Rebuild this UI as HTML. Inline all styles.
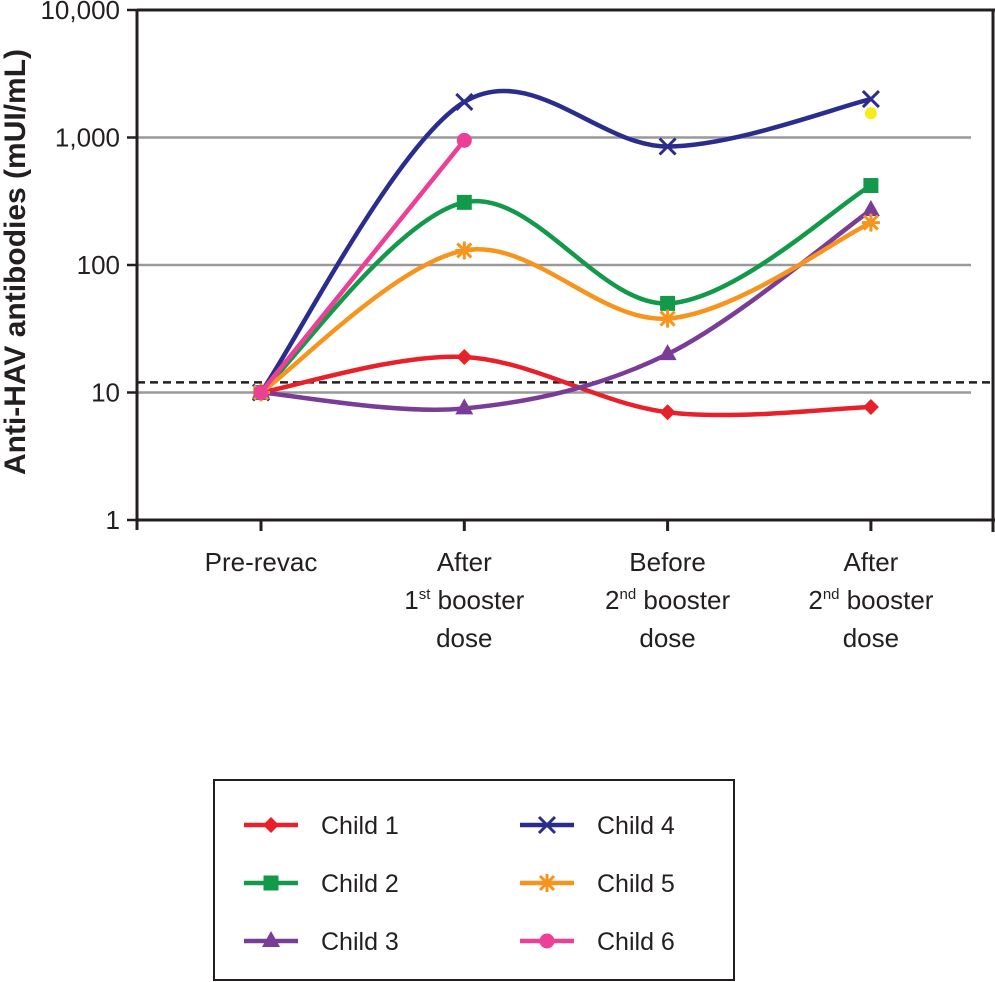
<!DOCTYPE html>
<html><head><meta charset="utf-8"><style>
body{margin:0;background:#fff}
svg{display:block;font-family:"Liberation Sans",Arial,sans-serif}
</style></head><body>
<svg id="chart" width="995" height="982" viewBox="0 0 995 982">
<g id="grid"></g>
<g id="axes"></g>
<g id="series"></g>
<g id="legend"></g>
</svg>
<script>
const categories = [["Pre-revac"],["After","1|st| booster","dose"],["Before","2|nd| booster","dose"],["After","2|nd| booster","dose"]];
const yTicks = [1,10,100,1000,10000];
const yTickLabels = ["1","10","100","1,000","10,000"];
const seriesNames = ["Child 1","Child 2","Child 3","Child 4","Child 5","Child 6"];
const child1 = [10,19,7,7.7];
const child2 = [10,310,50,420];
const child3 = [10,7.5,20,270];
const child4 = [10,1900,850,2000];
const child5 = [10,130,38,215];
const child6 = [10,950];
const extraPoint = [3,1550];
const thresholdValue = 12;

const NS="http://www.w3.org/2000/svg";
const colors=["#e8202a","#129a4a","#7a3d97","#2b2d8e","#f7941d","#ec3f95"];
const markers=["diamond","square","triangle","x","star","circle"];
const data=[child1,child2,child3,child4,child5,child6];
function xS(i){return 261+i*203.3;}
function yS(v){return 520-Math.log10(v)*127.5;}
function el(t,a,p){const e=document.createElementNS(NS,t);for(const k in a)e.setAttribute(k,a[k]);p.appendChild(e);return e;}
const grid=document.getElementById('grid'),axes=document.getElementById('axes'),ser=document.getElementById('series'),leg=document.getElementById('legend');
yTicks.forEach((v,i)=>{
  const y=yS(v);
  if(v>1&&v<10000){const g=el('line',{x1:137,x2:971,y1:y,y2:y,stroke:'#999','stroke-width':2.5},grid);
  
  }
  el('line',{x1:127,x2:137,y1:y,y2:y,stroke:'#231f20','stroke-width':2.5},axes);
  const t=el('text',{x:120,y:y+9,'text-anchor':'end','font-size':26,fill:'#231f20'},axes);
  t.textContent=yTickLabels[i];
  
  
});
el('line',{x1:137,x2:995,y1:yS(10000),y2:yS(10000),stroke:'#231f20','stroke-width':3},axes);
el('line',{x1:993,x2:993,y1:yS(10000),y2:532,stroke:'#231f20','stroke-width':3},axes);
el('line',{x1:137,x2:137,y1:yS(10000),y2:530,stroke:'#231f20','stroke-width':3},axes);
el('line',{x1:137,x2:995,y1:520,y2:520,stroke:'#231f20','stroke-width':3},axes);
categories.forEach((c,i)=>el('line',{x1:xS(i),x2:xS(i),y1:520,y2:531,stroke:'#231f20','stroke-width':3},axes));
const th=el('line',{x1:137,x2:995,y1:yS(thresholdValue),y2:yS(thresholdValue),stroke:'#231f20','stroke-width':2.5,'stroke-dasharray':'8,5'},axes);


const yt=el('text',{transform:'translate(25,262) rotate(-90)','text-anchor':'middle','font-size':30,'font-weight':'bold',fill:'#231f20'},axes);
yt.textContent='Anti-HAV antibodies (mUI/mL)';


categories.forEach((lines,i)=>{
  lines.forEach((ln,j)=>{
    const t=el('text',{x:xS(i),y:571+j*38,'text-anchor':'middle','font-size':26,fill:'#231f20'},axes);
    
    
    const parts=ln.split('|');
    parts.forEach((p,k)=>{const s=el('tspan',{},t);s.textContent=p;if(k==1){s.setAttribute('font-size',15);s.setAttribute('dy',-10);}if(k==2){s.setAttribute('dy',10);}});
  });
});
function smooth(pts){
  if(pts.length<3)return 'M'+pts.map(p=>p.join(',')).join(' L');
  let d='M'+pts[0].join(',');
  for(let i=0;i<pts.length-1;i++){
    const p0=pts[Math.max(0,i-1)],p1=pts[i],p2=pts[i+1],p3=pts[Math.min(pts.length-1,i+2)];
    const t=1/6;
    const c1=[p1[0]+(p2[0]-p0[0])*t,p1[1]+(p2[1]-p0[1])*t];
    const c2=[p2[0]-(p3[0]-p1[0])*t,p2[1]-(p3[1]-p1[1])*t];
    d+=' C'+c1.join(',')+' '+c2.join(',')+' '+p2.join(',');
  }
  return d;
}
function marker(type,x,y,c,p){
  let m;
  if(type=='diamond')m=el('polygon',{points:`${x},${y-8} ${x+8},${y} ${x},${y+8} ${x-8},${y}`,fill:c},p);
  else if(type=='square')m=el('rect',{x:x-7.5,y:y-7.5,width:15,height:15,fill:c},p);
  else if(type=='triangle')m=el('polygon',{points:`${x},${y-10} ${x+9},${y+6} ${x-9},${y+6}`,fill:c},p);
  else if(type=='circle')m=el('circle',{cx:x,cy:y,r:7.5,fill:c},p);
  else if(type=='x')m=el('path',{d:`M${x-8},${y-8}L${x+8},${y+8}M${x+8},${y-8}L${x-8},${y+8}`,stroke:c,'stroke-width':3},p);
  else m=el('path',{d:`M${x-9},${y}L${x+9},${y}M${x},${y-9}L${x},${y+9}M${x-7},${y-7}L${x+7},${y+7}M${x+7},${y-7}L${x-7},${y+7}`,stroke:c,'stroke-width':3},p);
  return m;
}
data.forEach((arr,s)=>{
  const g=el('g',{},ser);
  
  
  const pts=arr.map((v,i)=>[xS(i),yS(v)]);
  el('path',{d:smooth(pts),fill:'none',stroke:colors[s],'stroke-width':4.5},g);
  pts.forEach(p=>{const m=marker(markers[s],p[0],p[1],colors[s],g);
    
    });
});
const yd=el('circle',{cx:xS(extraPoint[0]),cy:yS(extraPoint[1]),r:6,fill:'#f5ec1a'},ser);


const lb=el('rect',{x:214,y:780,width:520,height:200,fill:'#fff',stroke:'#231f20','stroke-width':2},leg);


seriesNames.forEach((n,i)=>{
  const col=Math.floor(i/3),row=i%3;
  const x=244+col*276,y=825+row*58;
  const g=el('g',{},leg);
  
  
  el('line',{x1:x,x2:x+54,y1:y,y2:y,stroke:colors[i],'stroke-width':4.5},g);
  marker(markers[i],x+27,y,colors[i],g);
  const t=el('text',{x:x+77,y:y+9,'font-size':25,fill:'#231f20'},g);
  t.textContent=n;
});
</script>
</body></html>
